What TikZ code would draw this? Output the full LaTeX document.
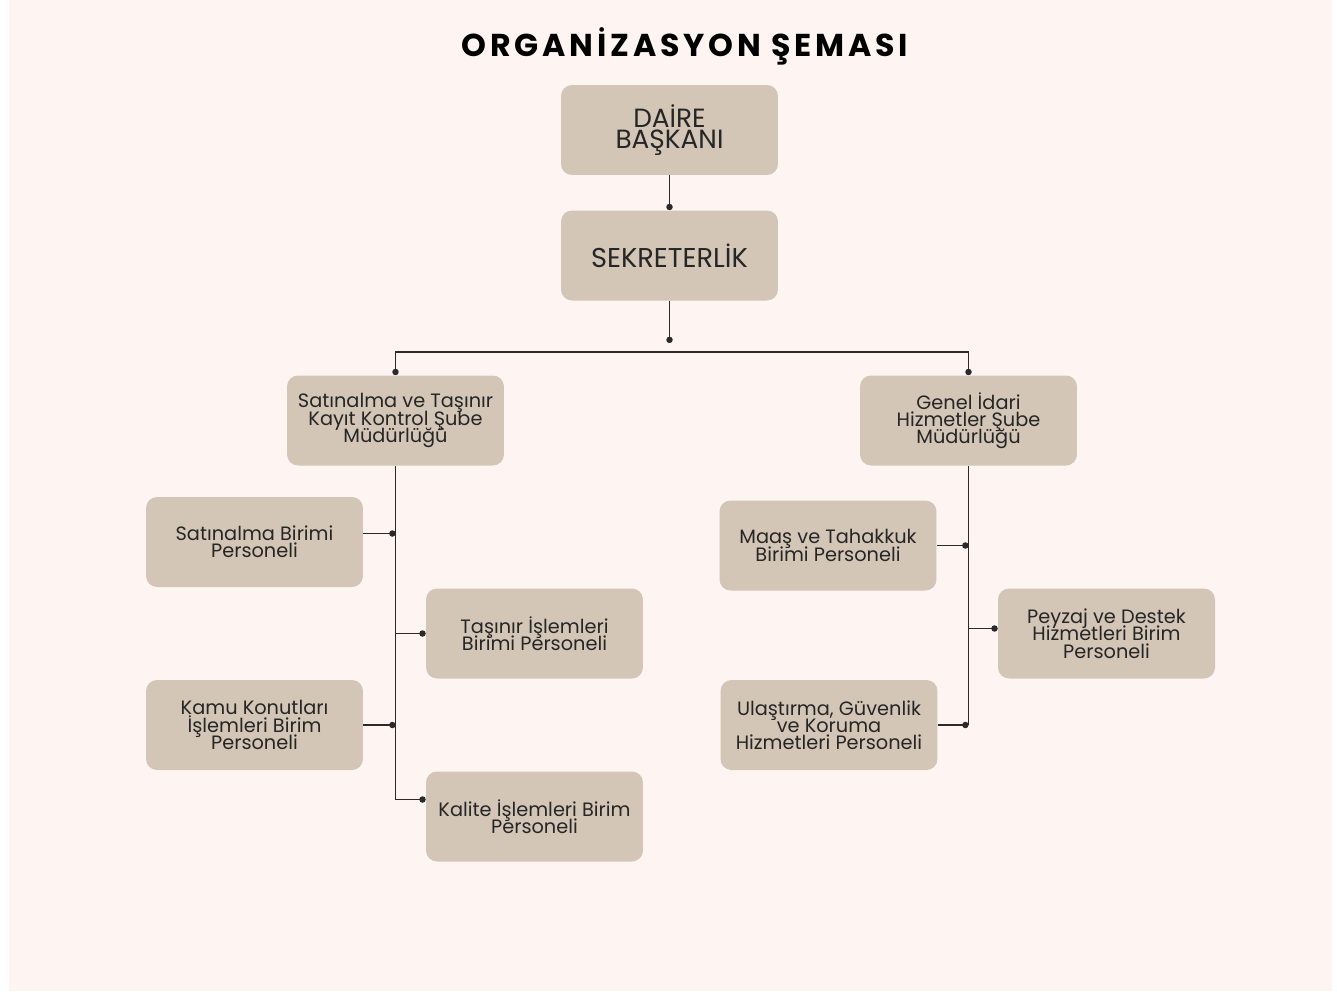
\documentclass[tikz,border=0pt]{standalone}
\usepackage{fontspec}
\setmainfont{Poppins}
\usetikzlibrary{arrows.meta, positioning}

\definecolor{zemin}{HTML}{FEF5F3}
\definecolor{kutu}{HTML}{D3C6B6}
\definecolor{yazi}{HTML}{262626}
\definecolor{cizgi}{HTML}{2A2A2A}

\begin{document}
\setlength{\lineskiplimit}{-20pt}
\begin{tikzpicture}[x=0.02cm, y=-0.02cm,
  box/.style={fill=kutu, rounded corners=0.22cm, minimum width=4.34cm, minimum height=1.8cm, inner sep=0, align=center, text=yazi, font=\fontsize{11}{9.8}\selectfont},
  bigbox/.style={box, font=\fontsize{15}{12.4}\selectfont},
  link/.style={cizgi, line width=1.1pt, -{Circle[length=3.6pt]}},
  bar/.style={cizgi, line width=1.1pt}]

\useasboundingbox (0,0) rectangle (1337,991);
\fill[zemin] (9,0) rectangle (1332,991); %zemin

\node[text=black, font=\fontsize{18}{18}\selectfont\bfseries\addfontfeature{LetterSpace=12}] (baslik) at (685,46) {ORGANİZASYON ŞEMASI}; %baslik

\node[bigbox] (daire) at (669.5,130) {DAİRE\\BAŞKANI};
\node[bigbox, font=\fontsize{15.5}{12.4}\selectfont] (sekreter) at (669.5,255.5) {SEKRETERLİK};

\node[box] (sube1) at (395.5,420.5) {Satınalma ve Taşınır\\Kayıt Kontrol Şube\\Müdürlüğü};
\node[box] (sube2) at (968.5,420.5) {Genel İdari\\Hizmetler Şube\\Müdürlüğü};

\node[box] (satbirim) at (254.5,542) {Satınalma Birimi\\Personeli};
\node[box] (tasinir) at (534.5,633.5) {Taşınır İşlemleri\\Birimi Personeli};
\node[box] (kamu) at (254.5,725) {Kamu Konutları\\İşlemleri Birim\\Personeli};
\node[box] (kalite) at (534.5,816.5) {Kalite İşlemleri Birim\\Personeli};

\node[box] (maas) at (828,545.5) {Maaş ve Tahakkuk\\Birimi Personeli};
\node[box] (peyzaj) at (1106.5,633.5) {Peyzaj ve Destek\\Hizmetleri Birim\\Personeli};
\node[box] (ulas) at (829,725) {Ulaştırma, Güvenlik\\ve Koruma\\Hizmetleri Personeli};

% ust kisim
\draw[link] (daire) -- (sekreter);
\coordinate (ayrim) at (669.5,343);
\draw[link] (sekreter) -- (ayrim);
\coordinate (hat) at (669.5,352);
\draw[link] (hat) -| (sube1);
\draw[link] (hat) -| (sube2);

% sol kol
\draw[link] (sube1.south) |- ([yshift=0.34cm]kalite.west); %kalite
\draw[link] (sube1.south |- tasinir.west) -- (tasinir.west); %tasinir
\coordinate (sb) at ([yshift=0.17cm]satbirim.east);
\draw[link] (sb) -- (sube1.south |- sb); %satbirim
\draw[link] (kamu.east) -- (sube1.south |- kamu.east); %kamu

% sag kol
\draw[bar] (sube2.south) -- (sube2.south |- ulas.east);
\draw[link] (maas.east) -- (sube2.south |- maas.east); %maas
\coordinate (pz) at ([yshift=0.1cm]peyzaj.west);
\draw[link] (sube2.south |- pz) -- (pz); %peyzaj
\draw[link] (ulas.east) -- (sube2.south |- ulas.east); %ulas

\end{tikzpicture}
\end{document}
